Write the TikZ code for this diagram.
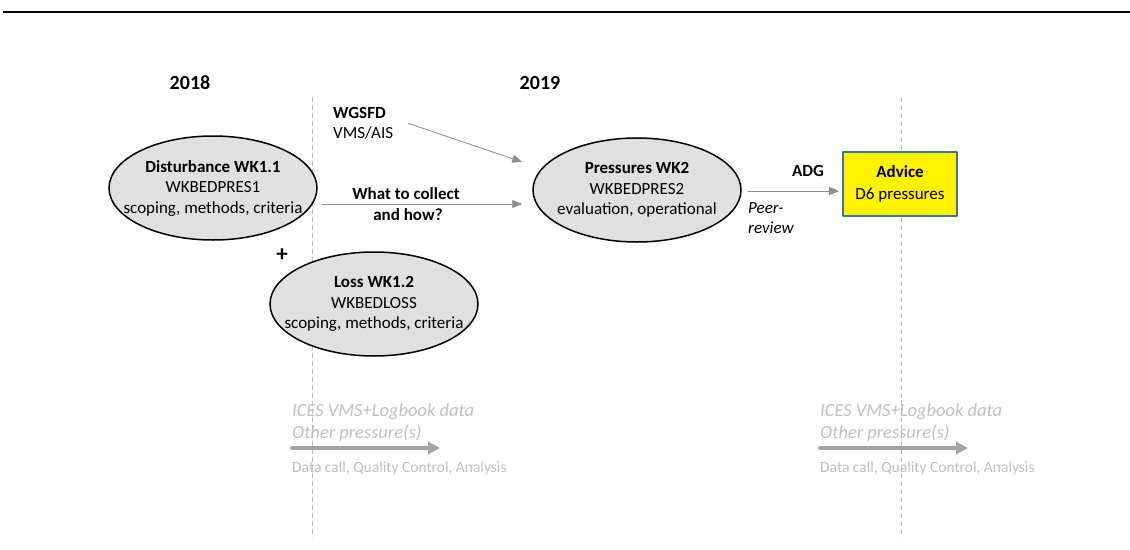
\documentclass[tikz,border=0pt]{standalone}
\usepackage{fontspec}
\setmainfont{Carlito}
\usetikzlibrary{shapes.geometric,arrows.meta}
\definecolor{ovalgray}{HTML}{E0E0E0}
\definecolor{arrgray}{HTML}{8C8C8C}
\definecolor{faint}{HTML}{BFBFBF}
\definecolor{boxblue}{HTML}{41719C}
\tikzset{
  lbl/.style={inner sep=0pt,text=black,font=\fontsize{17}{20.5}\selectfont},
  oval/.style={ellipse,draw,line width=1.5pt,fill=ovalgray,inner xsep=-18pt,inner ysep=0pt,
    minimum width=208pt,minimum height=104pt,align=center,
    font=\fontsize{17}{20.5}\selectfont},
  arr/.style={arrgray,line width=0.8pt,-{Triangle[length=10pt,width=8pt]}},
  bigarr/.style={faint!85!black,line width=4pt,-{Triangle[length=12pt,width=12pt]}},
  faintlbl/.style={faint,inner sep=0pt,anchor=west,font=\fontsize{18.5}{21}\selectfont\itshape},
}
\begin{document}
\begin{tikzpicture}[line cap=round,line join=round,x=1pt,y=-1pt]
\useasboundingbox (0,0) rectangle (1130,549);
\draw[line width=2.5pt,line cap=butt] (3,12)--(1130,12);
\foreach \x in {312,901}
{
\draw[faint,line width=0.6pt,dash pattern=on 5pt off 3pt] (\x,97)--(\x,537);
}
\node[lbl,font=\fontsize{20}{22}\selectfont\bfseries] (yr1) at (190,83) {2018};
\node[lbl,font=\fontsize{20}{22}\selectfont\bfseries] (yr2) at (540,83) {2019};

\node[oval] (dist) at (213,188) {\textbf{Disturbance WK1.1}\\WKBEDPRES1\\scoping, methods, criteria};
\node[oval] (loss) at (374,304) {\textbf{Loss WK1.2}\\WKBEDLOSS\\scoping, methods, criteria};
\node[oval] (pres) at (637,190) {\textbf{Pressures WK2}\\WKBEDPRES2\\evaluation, operational};
\node[lbl,font=\fontsize{23}{24}\selectfont\bfseries] (plus) at (282,255) {+};
\node[lbl,align=left,anchor=north west] (wgsfd) at (333,107) {\textbf{WGSFD}\\VMS/AIS};
\node[draw=boxblue,line width=1.6pt,fill=yellow,minimum width=114pt,minimum height=64pt,
  align=center,font=\fontsize{17}{21.5}\selectfont] (advice) at (900,184) {\textbf{Advice}\\D6 pressures};

\draw[arr] ([shift={(15pt,0pt)}]wgsfd.east)--([shift={(-10pt,28pt)}]pres.west);
\draw[arr] ([shift={(4pt,-16pt)}]dist.east)--([shift={(-10pt,-14pt)}]pres.west)
  node[pos=0.42,above=4pt,lbl,font=\fontsize{17}{20.5}\selectfont\bfseries] {What to collect}
  node[pos=0.43,below=4pt,lbl,font=\fontsize{17}{20.5}\selectfont\bfseries] {and how?};
\coordinate (a1) at ([shift={(6pt,-1pt)}]pres.east);
\coordinate (a2) at (advice.west |- a1);
\draw[arr] (a1)--([xshift=-3pt]a2)
  node[pos=0.66,above=14pt,lbl,font=\fontsize{17}{20.5}\selectfont\bfseries] {ADG};
\node[lbl,align=left,anchor=north west,font=\fontsize{17}{20}\selectfont\itshape] (peer) at (748,202) {Peer-\\review};

\foreach \x/\n in {292/l,820/r}
{
\node[faintlbl] (ices\n) at (\x,412) {ICES VMS+Logbook data};
\node[faintlbl] (other\n) at (\x,433) {Other pressure(s)};
\coordinate (s\n) at (\x,448);
\coordinate (e\n) at (\x+148,448);
\draw[bigarr] (s\n)--(e\n);
\node[faintlbl,font=\fontsize{15.5}{18}\selectfont] (call\n) at (\x,468) {Data call, Quality Control, Analysis};
}
\end{tikzpicture}
\end{document}
